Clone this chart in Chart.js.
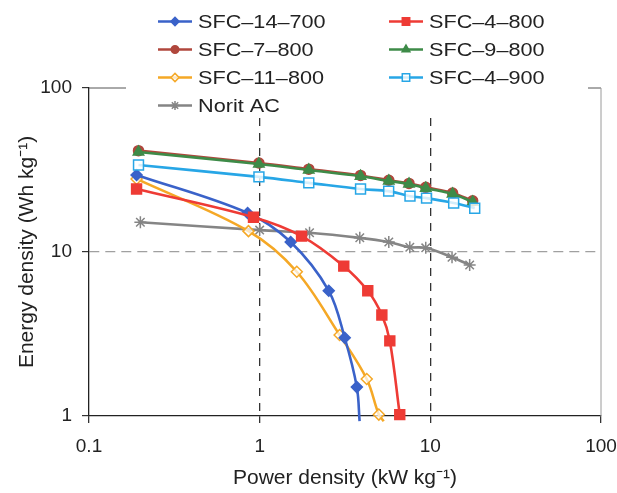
<!DOCTYPE html>
<html>
<head>
<meta charset="utf-8">
<script src="https://cdn.jsdelivr.net/npm/chart.js@4/dist/chart.umd.min.js"></script>
<style>
  html, body { margin: 0; padding: 0; background: #fff; }
  #wrap { width: 617px; height: 493px; }
</style>
</head>
<body>
<div id="wrap"><canvas id="chart" width="617" height="493"></canvas></div>
<script>
// ------------------ DATA ------------------
const xTicks = [0.1, 1, 10, 100];
const yTicks = [1, 10, 100];

const sfc14_700_x = [0.19, 0.85, 1.52, 2.54, 3.15, 3.71, 3.85];
const sfc14_700_y = [29.5, 17.3, 11.5, 5.8, 3.0, 1.5, 0.93];

const sfc4_800_x = [0.19, 0.92, 1.76, 3.11, 4.30, 5.2, 5.79, 6.62];
const sfc4_800_y = [24.2, 16.3, 12.5, 8.2, 5.8, 4.13, 2.87, 1.02];

const sfc7_800_x = [0.195, 0.99, 1.94, 3.9, 5.71, 7.5, 9.4, 13.5, 17.7];
const sfc7_800_y = [41.5, 34.9, 32.0, 29.3, 27.4, 26.2, 24.8, 22.9, 20.5];

const sfc9_800_x = [0.195, 0.99, 1.94, 3.9, 5.71, 7.5, 9.4, 13.5, 17.7];
const sfc9_800_y = [40.7, 34.4, 31.6, 29.0, 27.1, 26.0, 24.5, 22.6, 20.2];

const sfc11_800_x = [0.19, 0.86, 1.65, 2.94, 4.24, 4.99, 5.33];
const sfc11_800_y = [27.9, 13.4, 7.58, 3.12, 1.68, 1.02, 0.93];

const sfc4_900_x = [0.195, 0.99, 1.94, 3.9, 5.7, 7.6, 9.5, 13.7, 18.2];
const sfc4_900_y = [33.9, 28.7, 26.4, 24.2, 23.5, 21.9, 21.3, 19.9, 18.5];

const norit_x = [0.2, 1.0, 1.96, 3.86, 5.71, 7.58, 9.4, 13.4, 17.0];
const norit_y = [15.2, 13.6, 13.1, 12.2, 11.5, 10.7, 10.6, 9.3, 8.33];

const FONT = '"Liberation Sans", Arial, sans-serif';
Chart.defaults.font.family = FONT;
Chart.defaults.color = '#222';

function pts(xs, ys){ return xs.map((x, i) => ({x: x, y: ys[i]})); }

// last points of the two steep curves only carry the line below the axis
function radii(n, r, hideLast){ return Array.from({length: n}, (_, i) => (hideLast && i === n - 1) ? 0 : r); }

function series(label, xs, ys, color, style, r, fill, order, hideLast){
  return {
    label: label,
    data: pts(xs, ys),
    borderColor: color,
    backgroundColor: fill,
    pointBackgroundColor: fill,
    pointBorderColor: color,
    pointStyle: style,
    pointRadius: radii(xs.length, r, hideLast),
    pointBorderWidth: 1.5,
    borderWidth: 2.6,
    tension: 0.35,
    order: order,
    clip: 8,
    legendR: r * 0.75
  };
}

const datasets = [
  series('SFC–14–700', sfc14_700_x, sfc14_700_y, '#3a62c9', 'rectRot', 5.5, '#3a62c9', 3, true),
  series('SFC–4–800',  sfc4_800_x,  sfc4_800_y,  '#ee3b35', 'rect', 7, '#ee3b35', 2, false),
  series('SFC–7–800',  sfc7_800_x,  sfc7_800_y,  '#b0473d', 'circle', 5, '#b0473d', 6, false),
  series('SFC–9–800',  sfc9_800_x,  sfc9_800_y,  '#3e8b48', 'triangle', 6, '#3e8b48', 5, false),
  series('SFC–11–800', sfc11_800_x, sfc11_800_y, '#f5a826', 'rectRot', 5.5, 'rgba(255,255,255,0.7)', 4, true),
  series('SFC–4–900',  sfc4_900_x,  sfc4_900_y,  '#27a6e6', 'rect', 7, 'rgba(255,255,255,0.8)', 1, false),
  series('Norit AC',   norit_x,     norit_y,     '#858585', 'star', 6, '#858585', 7, false)
];

// ------------------ PLUGINS ------------------
const framePlugin = {
  id: 'frame',
  beforeDatasetsDraw(chart){
    const {ctx, chartArea: a} = chart;
    ctx.save();
    ctx.lineWidth = 1;
    ctx.strokeStyle = '#555';
    ctx.beginPath();
    ctx.moveTo(a.left, a.top); ctx.lineTo(a.right, a.top);
    ctx.stroke();
    ctx.strokeStyle = '#9a9a9a';
    ctx.beginPath();
    ctx.moveTo(a.right, a.top); ctx.lineTo(a.right, a.bottom);
    ctx.stroke();
    ctx.restore();
  }
};

const legendPlugin = {
  id: 'twoColLegend',
  afterDraw(chart){
    const ctx = chart.ctx;
    const cols = [158, 389];
    const top = 21.5, step = 28;
    ctx.save();
    ctx.fillStyle = '#fff';
    ctx.fillRect(126, 0, 462, 118);
    chart.data.datasets.forEach((ds, i) => {
      const x0 = cols[i % 2];
      const y = top + Math.floor(i / 2) * step;
      ctx.strokeStyle = ds.borderColor;
      ctx.lineWidth = 2.6;
      ctx.beginPath();
      ctx.moveTo(x0, y); ctx.lineTo(x0 + 34, y);
      ctx.stroke();
      ctx.fillStyle = ds.pointBackgroundColor;
      ctx.lineWidth = 1.5;
      Chart.helpers.drawPoint(ctx, {pointStyle: ds.pointStyle, radius: ds.legendR, borderWidth: 1.5, rotation: 0}, x0 + 17, y);
      ctx.save();
      ctx.translate(x0 + 40, y);
      ctx.scale(1.14, 1);
      ctx.fillStyle = '#222';
      ctx.font = '19px ' + FONT;
      ctx.textBaseline = 'middle';
      ctx.fillText(ds.label, 0, 1);
      ctx.restore();
    });
    ctx.restore();
  }
};

// ------------------ CHART ------------------
const chart = new Chart(document.getElementById('chart').getContext('2d'), {
  type: 'line',
  data: { datasets: datasets },
  options: {
    responsive: false,
    animation: false,
    layout: { padding: { top: 88, right: 16, left: 0, bottom: 0 } },
    plugins: { legend: { display: false }, tooltip: { enabled: false } },
    scales: {
      x: {
        type: 'logarithmic',
        min: 0.1, max: 100,
        afterBuildTicks: s => { s.ticks = xTicks.map(v => ({value: v})); },
        afterFit: s => { s.height = 77; s.paddingLeft = 0; s.paddingRight = 0; },
        ticks: { callback: v => String(v), font: { size: 19 }, padding: 12, maxRotation: 0, autoSkip: false },
        grid: {
          color: c => (c.tick && (c.tick.value === 1 || c.tick.value === 10)) ? '#333' : 'rgba(0,0,0,0)',
          tickColor: '#333',
          tickLength: 7,
          lineWidth: 1.3
        },
        border: { color: '#222', width: 1.3, dash: [8, 7] },
        title: { display: true, text: 'Power density (kW kg⁻¹)', font: { size: 21 }, padding: { top: 0, bottom: 2.4 } }
      },
      y: {
        type: 'logarithmic',
        min: 1, max: 100,
        afterBuildTicks: s => { s.ticks = yTicks.map(v => ({value: v})); },
        afterFit: s => { s.width = 89; s.paddingTop = 0; s.paddingBottom = 0; },
        ticks: { callback: v => String(v), font: { size: 19 }, padding: 10, autoSkip: false },
        grid: {
          color: c => (c.tick && c.tick.value === 10) ? '#a0a0a0' : 'rgba(0,0,0,0)',
          tickColor: '#333',
          tickLength: 7,
          lineWidth: 1.2
        },
        border: { color: '#222', width: 1.3, dash: [10, 6] },
        title: { display: true, text: 'Energy density (Wh kg⁻¹)', font: { size: 21 }, padding: { top: 14.4, bottom: 0 } }
      }
    }
  },
  plugins: [framePlugin, legendPlugin]
});
</script>
</body>
</html>
